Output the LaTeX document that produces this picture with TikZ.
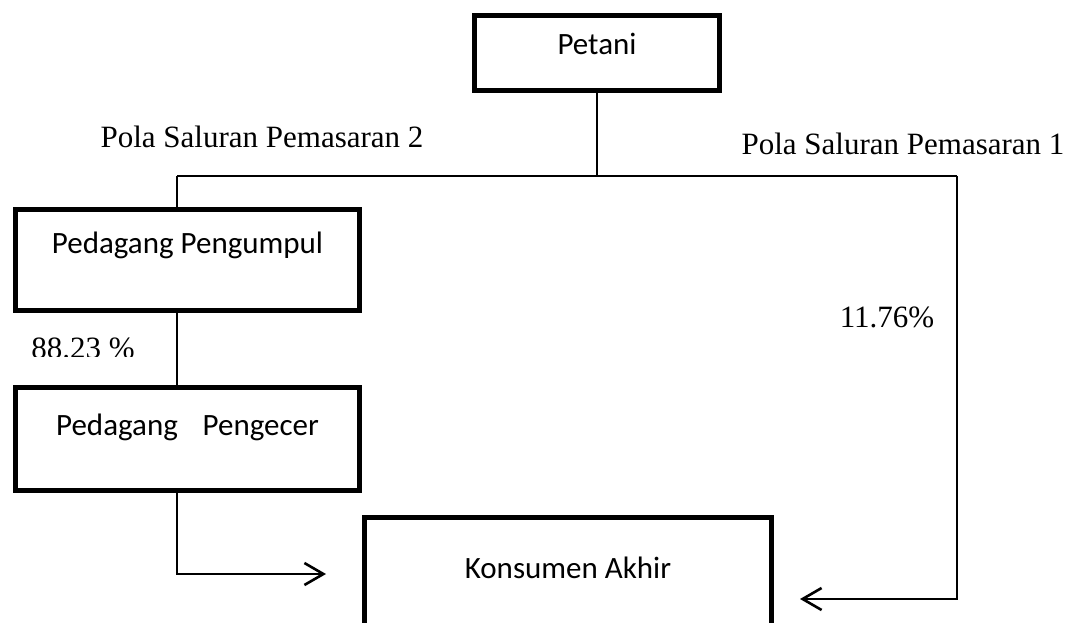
\documentclass[tikz,border=0pt]{standalone}
\usepackage{fontspec}
\setmainfont{Liberation Serif}
\newfontfamily\calib{Carlito}
\usetikzlibrary{arrows.meta}
\begin{document}
\begin{tikzpicture}[x=1pt,y=-1pt,
  box/.style={draw=black, line width=5pt, fill=white, inner sep=0pt},
  sanstxt/.style={font=\calib\fontsize{31}{37}\selectfont, anchor=base, inner sep=0pt},
  sertxt/.style={font=\fontsize{31}{37}\selectfont, anchor=base, inner sep=0pt},
  conn/.style={draw=black, line width=2pt},
  arr/.style={conn, -{Straight Barb[length=19pt,width=22pt,line width=2.6pt]}}]
\useasboundingbox (0,0) rectangle (1066,623);
\clip (0,0) rectangle (1066,623);
\fill[white] (0,0) rectangle (1066,623);
% boxes
\node[box, minimum width=245pt, minimum height=75pt] (pet) at (597,53) {};
\node[box, minimum width=344pt, minimum height=101pt] (pen) at (187.5,260) {};
\node[box, minimum width=344pt, minimum height=103pt] (pec) at (187.5,439) {};
\node[box, minimum width=407pt, minimum height=140pt] (kon) at (568,587.5) {};
% box texts
\node[sanstxt] (tpet) at (597,55) {Petani};
\node[sanstxt] (tpen) at (187.5,253) {Pedagang Pengumpul};
\node[sanstxt] (tpec) at (187.5,435) {Pedagang\hspace{0.8em}Pengecer};
\node[sanstxt] (tkon) at (568,578) {Konsumen Akhir};
% coordinates
\coordinate (split) at (597,176);
\coordinate (lt) at (177,176);
\coordinate (rt) at (957,176);
\coordinate (lb) at (177,574);
\coordinate (rb) at (957,599);
% connectors
\draw[conn] (pet.south) -- (split);
\draw[conn] (lt) -- (rt);
\draw[conn] (lt) -- (lt |- pen.north);
\draw[conn] (lt |- pen.south) -- (lt |- pec.north);
\draw[arr] (lt |- pec.south) -- (lb) -- (326,574);
\draw[arr] (rt) -- (rb) -- (800,599);
% labels
\node[sertxt] (l2) at (262,148) {Pola Saluran Pemasaran 2};
\node[sertxt] (l1) at (903,155) {Pola Saluran Pemasaran 1};
\node[sertxt] (p1) at (887,327) {11.76\%};
\begin{scope}
\clip (0,330) rectangle (170,356);
\node[sertxt] (p2) at (83,358) {88.23 \%};
\end{scope}
\end{tikzpicture}
\end{document}
